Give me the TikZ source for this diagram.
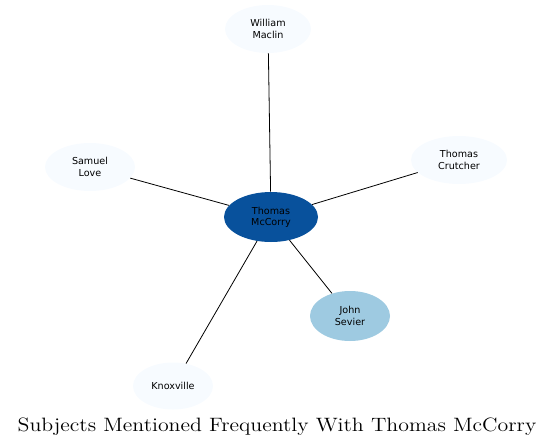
\documentclass[tikz,border=0pt]{standalone}
\usepackage{fontspec}
\newfontfamily\nodefont{DejaVu Sans}
\usetikzlibrary{shapes.geometric}
\definecolor{dark}{HTML}{08519C}
\definecolor{mid}{HTML}{9ECAE1}
\definecolor{pale}{HTML}{F7FBFF}
\tikzset{
  ent/.style={ellipse, draw=none, fill=pale, inner sep=0pt, align=center,
    font=\nodefont\fontsize{7.2}{8.4}\selectfont},
  link/.style={draw=black, line width=0.6pt}
}
\begin{document}
\begin{tikzpicture}[x=0.75pt,y=-0.75pt]
\useasboundingbox (0,0) rectangle (553,447);
\node[ent, fill=dark, minimum width=70.5pt, minimum height=37.5pt] (c) at (271,217) {Thomas\\McCorry};
\node[ent, minimum width=64.5pt, minimum height=36pt] (w) at (268,29) {William\\Maclin};
\node[ent, minimum width=67.5pt, minimum height=36pt] (s) at (90,167) {Samuel\\Love};
\node[ent, minimum width=72pt, minimum height=36pt] (t) at (459,160) {Thomas\\Crutcher};
\node[ent, fill=mid, minimum width=60pt, minimum height=37.5pt] (j) at (350,316) {John\\Sevier};
\node[ent, minimum width=60pt, minimum height=35.25pt] (k) at (173,386) {Knoxville};
\draw[link] (c) -- (w);
\draw[link] (c) -- (s);
\draw[link] (c) -- (t);
\draw[link] (c) -- (j);
\draw[link] (c) -- (k);
\node[font=\fontsize{14.5}{16}\selectfont, anchor=base, inner sep=0pt] (title) at (277,431) {\scalebox{1.13}[1]{Subjects Mentioned Frequently With Thomas McCorry}};
\end{tikzpicture}
\end{document}
